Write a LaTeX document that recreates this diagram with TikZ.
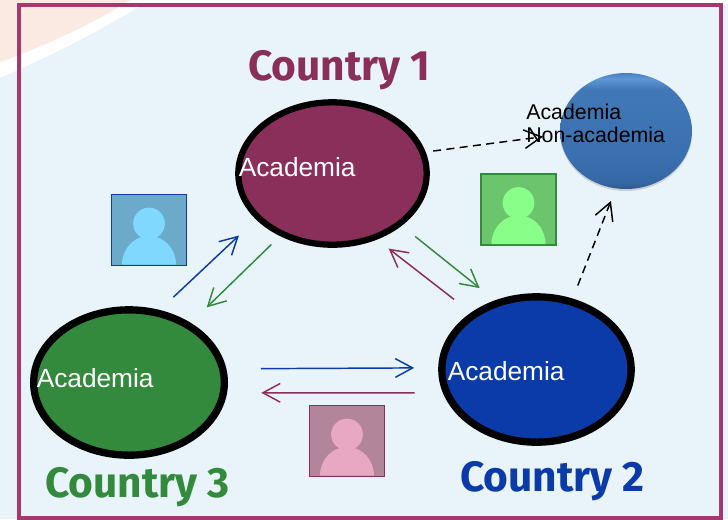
\documentclass[tikz,border=0pt]{standalone}
\usepackage{fontspec}
\setmainfont{Liberation Sans}
\newfontfamily\titlefont{Fira Sans}
\usetikzlibrary{arrows.meta,shapes.geometric,shadows}
\definecolor{wine}{HTML}{8A2E5A}
\definecolor{royal}{HTML}{0B3BA8}
\definecolor{leaf}{HTML}{338A3C}
\definecolor{framecol}{HTML}{A23A70}
\definecolor{paleblue}{HTML}{E8F3FA}
\definecolor{peach}{HTML}{FBEAE2}
\definecolor{boxblue}{HTML}{6BABC9}
\definecolor{manblue}{HTML}{80D8FF}
\definecolor{boxgreen}{HTML}{6CC46C}
\definecolor{mangreen}{HTML}{88FF88}
\definecolor{boxpink}{HTML}{B2859A}
\definecolor{manpink}{HTML}{E8A8C4}
\definecolor{sphA}{HTML}{2E5A8C}
\definecolor{sphB}{HTML}{3568A5}
\definecolor{sphC}{HTML}{3B70B0}
\definecolor{sphD}{HTML}{4078B8}
\definecolor{sphE}{HTML}{5F96D6}
\definecolor{sphF}{HTML}{4A80BE}
\pgfdeclareverticalshading{sphereshade}{100bp}{
    color(0bp)=(sphA);
    color(25bp)=(sphA);
    color(28bp)=(sphB);
    color(40bp)=(sphC);
    color(68bp)=(sphD);
    color(72.5bp)=(sphE);
    color(75bp)=(sphF);
    color(100bp)=(sphF)}
\tikzset{
    academia/.style={ellipse,draw=black,line width=5.5pt,inner sep=0pt},
    personbox/.style={draw,line width=1.1pt,inner sep=0pt,minimum width=56pt,minimum height=53.5pt},
    pics/person/.style={code={
        \fill[#1] (0,-6.5) circle[radius=11.9pt];
        \fill[#1] (-27,34.5) arc[start angle=180,end angle=0,x radius=20.25pt,y radius=21.5pt] -- cycle;
    }},
    flow/.style={line width=1.1pt,-{Straight Barb[length=13pt,width=14pt,line width=1.1pt]}},
    dashflow/.style={flow,black,dash pattern=on 6pt off 4pt},
    titletext/.style={anchor=base west,inner sep=0pt,font=\titlefont\bfseries\fontsize{31.8}{36}\selectfont},
    whitetext/.style={anchor=base west,text=white,inner sep=0pt,font=\fontsize{19.7}{24}\selectfont},
    blacktext/.style={anchor=base west,text=black,inner sep=0pt,font=\fontsize{16}{17.3}\selectfont}
}

\begin{document}
\begin{tikzpicture}[x=0.75pt,y=-0.75pt]
    \useasboundingbox (0,0) rectangle (728,519);
    % backdrop
    \fill[paleblue] (0,0) rectangle (728,519);
    \fill[white] (0,0) -- (728,0) -- (728,4) -- (143,4)
        .. controls (105,28) and (55,54) .. (0,78) -- cycle;
    \fill[peach] (0,0) -- (130,0) .. controls (100,20) and (50,44) .. (0,62) -- cycle;
    \draw[framecol,line width=3pt] (19,5) rectangle (721,518);

    % the three countries and the outside circle
    \node[academia,line width=4.7pt,fill=wine,minimum width=141.3pt,minimum height=106.8pt] (country1) at (332.5,173.5) {};
    \node[academia,fill=royal,minimum width=142pt,minimum height=109pt] (country2) at (536.5,369.5) {};
    \node[academia,fill=leaf,minimum width=143pt,minimum height=109pt] (country3) at (129,382.5) {};
    \node[ellipse,inner sep=0pt,outer sep=0pt,minimum width=99pt,minimum height=87pt,shading=sphereshade,
        drop shadow={opacity=0.3,shadow xshift=0pt,shadow yshift=-1.5pt}] (outside) at (626,131) {};

    \node[whitetext] (label1) at (238.5,176) {Academia};
    \node[whitetext] (label2) at (447.5,380) {Academia};
    \node[whitetext] (label3) at (36.5,387) {Academia};
    \node[blacktext] (labeltop) at (526,119) {Academia};
    \node[blacktext] (labelbottom) at (526,142) {Non-academia};

    \node[titletext,text=wine] (title1) at (248,80) {Country 1};
    \node[titletext,text=royal] (title2) at (460,491) {Country 2};
    \node[titletext,text=leaf] (title3) at (45,497) {Country 3};

    % person boxes
    \node[personbox,draw=royal,fill=boxblue] (boxone) at (149,230) {};
    \pic at (boxone.center) {person=manblue};
    \node[personbox,draw=leaf,fill=boxgreen] (boxtwo) at (518.5,209.5) {};
    \pic at (boxtwo.center) {person=mangreen};
    \node[personbox,draw=wine,fill=boxpink] (boxthree) at (347,441) {};
    \pic at (boxthree.center) {person=manpink};

    % flows
    \draw[flow,royal,shorten <=14pt,shorten >=17.6pt] (country3.67.4) -- (country1.211.4);
    \draw[flow,leaf,shorten <=9pt,shorten >=16.7pt] (country1.230.7) -- (country3.44.8);
    \draw[flow,leaf,shorten <=12.9pt,shorten >=14.7pt] (country1.-37.4) -- (country2.121.3);
    \draw[flow,wine,shorten <=16.1pt,shorten >=11pt] (country2.139.8) -- (country1.-56.6);
    \draw[flow,royal,shorten <=25.9pt,shorten >=18pt] (country3.8.9) -- (country2.179.7);
    \draw[flow,wine,shorten <=21.2pt,shorten >=25.7pt] (country2.194.7) -- (country3.-6.7);
    \draw[dashflow,shorten <=5.7pt,shorten >=13pt] (country1.13.7) -- (outside.183.5);
    \draw[dashflow,shorten <=10.5pt,shorten >=10.2pt] (country2.63.8) -- (outside.260.2);
\end{tikzpicture}
\end{document}
